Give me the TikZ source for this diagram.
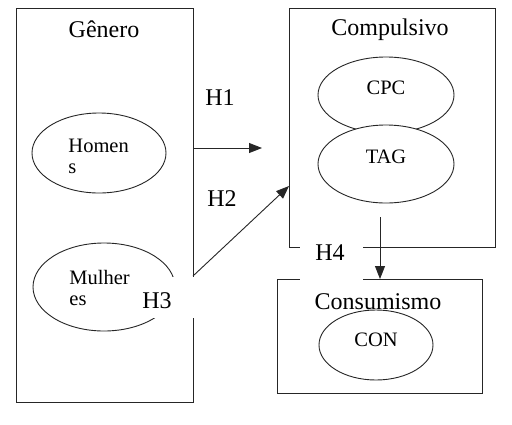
\documentclass[tikz,border=0pt]{standalone}
\usepackage{fontspec}
\setmainfont{Liberation Serif}
\usetikzlibrary{arrows.meta}
\begin{document}
\begin{tikzpicture}[x=1pt,y=-1pt,
  line width=0.9pt,
  boxline/.style={draw=black!85},
  ell/.style={draw=black!85,fill=white},
  title/.style={font=\fontsize{24}{26}\selectfont,inner sep=0pt},
  etext/.style={font=\fontsize{20.5}{21}\selectfont,inner sep=0pt},
  hlab/.style={font=\fontsize{24}{26}\selectfont,inner sep=0pt},
  arr/.style={draw=black!85,-{Triangle[length=13pt,width=10pt]}}]
\useasboundingbox (0,0) rectangle (512,424);
\fill[white] (0,0) rectangle (512,424);
% Genero box
\draw[boxline] (16,8) rectangle (193,402);
\node[title] (gen) at (104,29) {Gênero};
\draw[ell] (99,153) ellipse [x radius=67,y radius=40];
\node[etext,align=left,anchor=west] (hom) at (68,156) {Homen\\s};
\draw[ell] (104,287) ellipse [x radius=71,y radius=44];
\node[etext,align=left,anchor=west] (mul) at (69,288) {Mulher\\es};
% Compulsivo box
\draw[boxline] (289,8) rectangle (495,247);
\node[title] (comp) at (390,30) {Compulsivo};
\draw[ell] (386,95) ellipse [x radius=68,y radius=38];
\node[etext] (cpc) at (386,88) {CPC};
\draw[ell] (386,164) ellipse [x radius=68,y radius=39];
\node[etext] (tag) at (386,157) {TAG};
% Consumismo box
\draw[boxline] (277,279) rectangle (482,393);
\draw[ell] (376,345) ellipse [x radius=57,y radius=35];
\node[title] (cons) at (378,302) {Consumismo};
\node[etext] (con) at (376,340) {CON};
% arrows
\coordinate (h1s) at (193,148);
\coordinate (h1e) at (262,148);
\draw[arr] (h1s) -- (h1e);
\coordinate (h2s) at (193,276);
\coordinate (h2e) at (289,186);
\draw[arr] (h2s) -- (h2e);
\coordinate (h4s) at (380,217);
\coordinate (h4e) at (380,279);
\draw[arr] (h4s) -- (h4e);
% white patches
\fill[white] (140,277) rectangle (200,318);
\fill[white] (300,246) rectangle (363,280);
% labels
\node[hlab] (h1) at (220,98) {H1};
\node[hlab] (h2) at (222,199) {H2};
\node[hlab] (h3) at (157,301) {H3};
\node[hlab] (h4) at (330,253) {H4};
\end{tikzpicture}
\end{document}
